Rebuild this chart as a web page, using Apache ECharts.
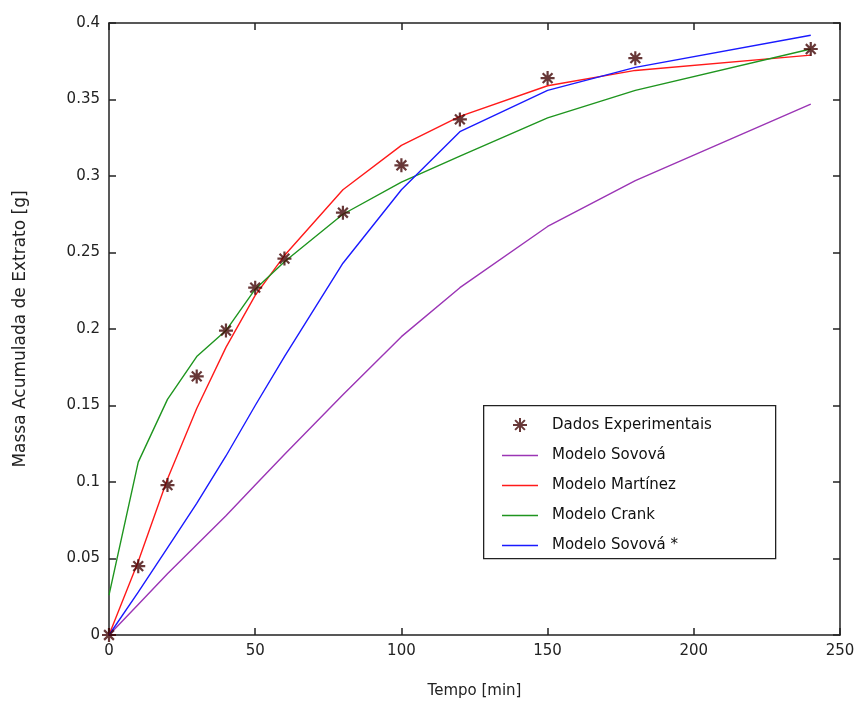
<!DOCTYPE html>
<html>
<head>
<meta charset="utf-8">
<script src="https://cdn.jsdelivr.net/npm/echarts@6/dist/echarts.min.js"></script>
<style>html,body{margin:0;padding:0;background:#fff;}#c{width:858px;height:704px;}</style>
</head>
<body>
<div id="c"></div>
<script>
const time = [0, 10, 20, 30, 40, 50, 60, 80, 100, 120, 150, 180, 240];
const experimental = [0, 0.045, 0.098, 0.169, 0.199, 0.227, 0.246, 0.276, 0.307, 0.337, 0.364, 0.377, 0.383];
const sovova = [0, 0.020, 0.040, 0.059, 0.078, 0.098, 0.118, 0.157, 0.195, 0.227, 0.267, 0.297, 0.347];
const martinez = [0, 0.048, 0.102, 0.148, 0.188, 0.222, 0.248, 0.291, 0.320, 0.339, 0.359, 0.369, 0.379];
const crank = [0.026, 0.113, 0.154, 0.182, 0.199, 0.226, 0.244, 0.275, 0.296, 0.313, 0.338, 0.356, 0.383];
const sovovaStar = [0, 0.028, 0.057, 0.086, 0.117, 0.150, 0.182, 0.243, 0.291, 0.329, 0.356, 0.371, 0.392];
const xTicks = [0, 50, 100, 150, 200, 250];
const yTicks = [0, 0.05, 0.1, 0.15, 0.2, 0.25, 0.3, 0.35, 0.4];
const seriesNames = ['Dados Experimentais', 'Modelo Sovová', 'Modelo Martínez', 'Modelo Crank', 'Modelo Sovová *'];

const pair = (ys) => time.map((t, i) => [t, ys[i]]);
const star = 'path://M5,0 L5,10 M0,5 L10,5 M1.5,1.5 L8.5,8.5 M1.5,8.5 L8.5,1.5';
const lineIcon = 'path://M0,0 L36,0 L36,1.6 L0,1.6 Z';
const font = 'DejaVu Sans';
const axisCol = '#222';
const markerCol = '#420606';

const xBase = {
  type: 'value', min: xTicks[0], max: xTicks[xTicks.length - 1], interval: xTicks[1] - xTicks[0],
  splitLine: { show: false },
  axisLine: { onZero: false, lineStyle: { color: axisCol, width: 1.5 } },
  axisTick: { inside: true, length: 7, lineStyle: { color: axisCol, width: 1.5 } }
};
const yBase = {
  type: 'value', min: yTicks[0], max: yTicks[yTicks.length - 1], interval: 0.05,
  splitLine: { show: false },
  axisLine: { onZero: false, lineStyle: { color: axisCol, width: 1.5 } },
  axisTick: { inside: true, length: 7, lineStyle: { color: axisCol, width: 1.5 } }
};

const chart = echarts.init(document.getElementById('c'));
const lineSeries = (name, ys, color) => ({
  name, type: 'line', data: pair(ys), showSymbol: false, symbol: 'none',
  lineStyle: { color, width: 1.4 }, itemStyle: { color }, z: 3, animation: false
});

chart.setOption({
  animation: false,
  backgroundColor: '#fff',
  grid: { left: 109, right: 18, top: 23, bottom: 67 },
  xAxis: [
    Object.assign({}, xBase, {
      position: 'bottom',
      name: 'Tempo [min]', nameLocation: 'middle', nameGap: 49,
      nameTextStyle: { fontFamily: font, fontSize: 15, color: '#222' },
      axisLabel: { margin: 9, fontFamily: font, fontSize: 15, color: '#222' }
    }),
    Object.assign({}, xBase, { position: 'top', axisLabel: { show: false } })
  ],
  yAxis: [
    Object.assign({}, yBase, {
      position: 'left',
      name: 'Massa Acumulada de Extrato [g]', nameLocation: 'middle', nameGap: 80,
      nameTextStyle: { fontFamily: font, fontSize: 17, color: '#222' },
      axisLabel: { margin: 9, fontFamily: font, fontSize: 15, color: '#222',
        formatter: (v) => String(Math.round(v * 100) / 100) }
    }),
    Object.assign({}, yBase, { position: 'right', axisLabel: { show: false } })
  ],
  legend: {
    orient: 'vertical', left: 497, top: 412,
    itemWidth: 36, itemHeight: 14, itemGap: 15,
    data: [
      { name: seriesNames[0], icon: star },
      { name: seriesNames[1], icon: lineIcon },
      { name: seriesNames[2], icon: lineIcon },
      { name: seriesNames[3], icon: lineIcon },
      { name: seriesNames[4], icon: lineIcon }
    ],
    textStyle: { fontFamily: font, fontSize: 15, color: '#111', padding: [0, 0, 0, 9] },
    inactiveColor: '#ccc'
  },
  graphic: [{
    type: 'rect', left: 483, top: 405, z: 0,
    shape: { width: 292, height: 153 },
    style: { fill: '#fff', stroke: '#222', lineWidth: 1.3 }
  }],
  series: [
    {
      name: seriesNames[0], type: 'scatter', data: pair(experimental),
      symbol: star, symbolSize: 14,
      itemStyle: { color: markerCol, borderColor: markerCol, borderWidth: 2.2 },
      z: 5
    },
    lineSeries(seriesNames[1], sovova, '#9b35b5'),
    lineSeries(seriesNames[2], martinez, '#ff1a1a'),
    lineSeries(seriesNames[3], crank, '#1f951f'),
    lineSeries(seriesNames[4], sovovaStar, '#1a1aff')
  ]
});
</script>
</body>
</html>
